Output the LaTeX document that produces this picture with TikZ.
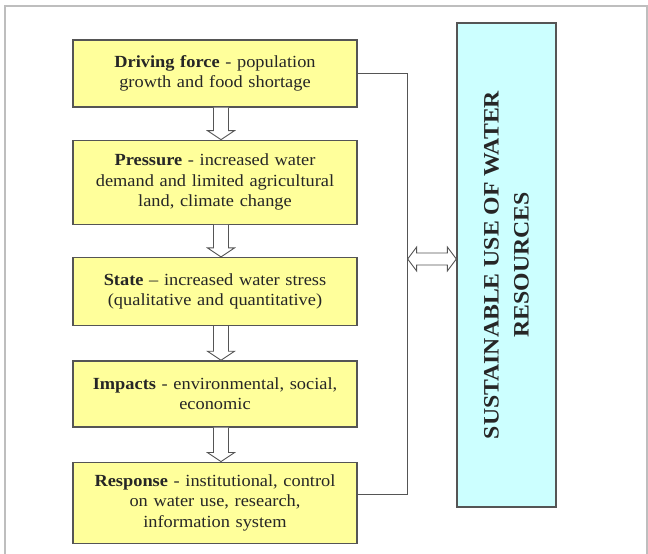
\documentclass[tikz,border=0pt]{standalone}
\usepackage{fontspec}
\setmainfont[FakeStretch=1.08]{Liberation Serif}
\usepackage{tikz}
\usetikzlibrary{positioning, calc}
\definecolor{boxyellow}{RGB}{255,255,155}
\definecolor{boxcyan}{RGB}{204,255,255}
\definecolor{linegray}{RGB}{85,85,85}
\definecolor{framegray}{RGB}{190,190,190}
\tikzstyle{dpsir} = [rectangle, minimum width=284pt, text width=272pt, align=center, draw=linegray, line width=1.3pt, fill=boxyellow, inner sep=0pt, text=black!85, font=\fontsize{17}{20.5}\selectfont]
\tikzstyle{goal} = [rectangle, rotate=90, minimum width=484pt, minimum height=99pt, align=center, draw=linegray, line width=1.3pt, fill=boxcyan, text=black!85, font=\fontsize{22}{30}\selectfont\bfseries]
\tikzstyle{link} = [draw=linegray, line width=0.9pt]
\tikzstyle{hollow} = [draw=linegray, line width=0.9pt, fill=white]
% hollow block arrow from one box down to the next
\newcommand{\pushdown}[2]{%
  \draw [hollow] ($(#1.south)+(-1.5,0)$) -- ($(#2.north)+(-1.5,9)$) -- ++(-6,0) -- ++(13.5,-9) -- ++(13.5,9) -- ++(-6,0) -- ($(#1.south)+(13.5,0)$);}

\begin{document}
\begin{tikzpicture}[x=1pt, y=1pt, node distance=32pt]
    \useasboundingbox (0,0) rectangle (648,554);
    \draw [draw=framegray, line width=1.5pt] (5,-10) rectangle (647,548);

    \node (drv) [dpsir, minimum height=67pt] at (215,480.5) {\textbf{Driving force} - population\\growth and food shortage};
    \node (prs) [dpsir, minimum height=84pt, below=of drv] {\textbf{Pressure} - increased water\\demand and limited agricultural\\land, climate change};
    \node (sta) [dpsir, minimum height=68pt, below=of prs] {\textbf{State} -- increased water stress\\(qualitative and quantitative)};
    \node (imp) [dpsir, minimum height=66pt, below=34pt of sta] {\textbf{Impacts} - environmental, social,\\economic};
    \node (resp) [dpsir, minimum height=81pt, below=34pt of imp] {\textbf{Response} - institutional, control\\on water use, research,\\information system};
    \node (sus) [goal] at (506.5,289) {SUSTAINABLE USE OF WATER\\RESOURCES};

    \pushdown{drv}{prs}
    \pushdown{prs}{sta}
    \pushdown{sta}{imp}
    \pushdown{imp}{resp}

    \coordinate (bus) at ($(drv.east)+(50,0)$);
    \draw [link] (drv.east) -- (bus) |- ($(resp.east)+(0,8)$);

    \coordinate (dr) at ($(sus.north)+(0,6)$);
    \coordinate (dl) at (bus |- dr);
    \draw [hollow] (dl) -- ++(9,12) -- ++(0,-6) -- ($(dr)+(-9,6)$) -- ++(0,6) -- (dr) -- ++(-9,-12) -- ++(0,6) -- ($(dl)+(9,-6)$) -- ++(0,-6) -- cycle;
\end{tikzpicture}
\end{document}
